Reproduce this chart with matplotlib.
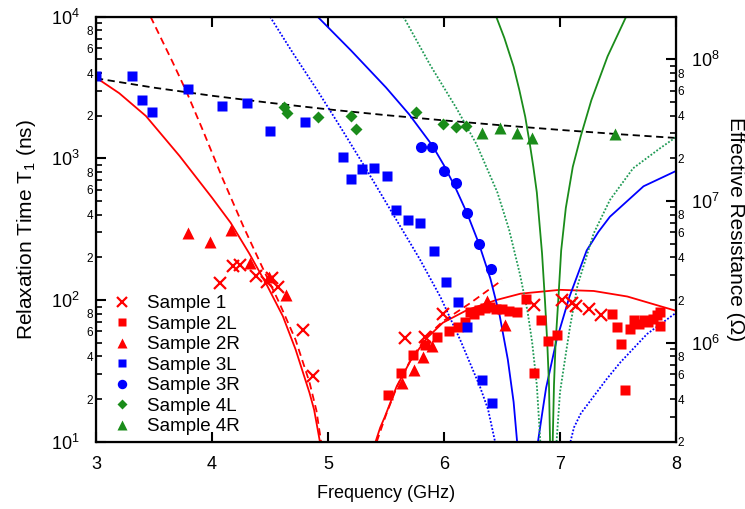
import math
import matplotlib
matplotlib.use('Agg')
import matplotlib.pyplot as plt
from matplotlib.ticker import LogLocator, FuncFormatter

plt.rcParams['font.family'] = ['Liberation Sans', 'DejaVu Sans']
plt.rcParams['mathtext.fontset'] = 'custom'
plt.rcParams['mathtext.rm'] = 'Liberation Sans'

# measured points
s1_x = [4.07, 4.18, 4.24, 4.38, 4.47, 4.52, 4.57, 4.78, 4.87, 5.66, 5.84, 5.99, 6.78, 7.02, 7.10, 7.14, 7.25, 7.35]
s1_y = [131, 174, 178, 148, 135, 142, 124, 61, 29, 54, 55, 80, 92, 100, 95, 91, 86, 78]

s2L_x = [5.52, 5.63, 5.73, 5.84, 5.94, 6.04, 6.12, 6.18, 6.22, 6.26, 6.30, 6.35, 6.40, 6.45, 6.50,
         6.56, 6.63, 6.71, 6.78, 6.84, 6.90, 6.97, 7.45, 7.49, 7.53, 7.56, 7.60, 7.64, 7.68, 7.72,
         7.76, 7.80, 7.84, 7.86, 7.86]
s2L_y = [21.4, 30.4, 40.9, 48.2, 55, 60, 64, 70, 83, 80, 85, 88, 90, 86, 87,
         84, 83, 101, 30.7, 72, 51, 57, 80, 64, 49, 23.2, 62, 72, 68, 72,
         70, 74, 78, 82, 66]

s2R_x = [3.79, 3.98, 4.16, 4.33, 4.49, 4.64, 5.64, 5.74, 5.82, 5.90, 6.37, 6.53]
s2R_y = [296, 255, 312, 184, 145, 108, 25.8, 32, 39.4, 47.5, 98, 67]

s3L_x = [3.0, 3.31, 3.40, 3.48, 3.79, 4.09, 4.30, 4.50, 4.80, 5.13, 5.20, 5.29, 5.40, 5.51,
         5.59, 5.69, 5.79, 5.91, 6.02, 6.12, 6.20, 6.33, 6.41]
s3L_y = [3810, 3810, 2580, 2135, 3090, 2340, 2450, 1560, 1806, 1017, 711, 837, 851, 755,
         432, 367, 351, 222, 133, 97, 65, 27.3, 18.7]

s3R_x = [5.80, 5.90, 6.00, 6.10, 6.20, 6.30, 6.405]
s3R_y = [1208, 1208, 815, 667, 409, 247, 166]

s4L_x = [4.62, 4.65, 4.91, 5.20, 5.24, 5.76, 5.99, 6.10, 6.19]
s4L_y = [2316, 2080, 1970, 1990, 1612, 2115, 1740, 1676, 1690]

s4R_x = [6.33, 6.48, 6.63, 6.76, 7.47]
s4R_y = [1518, 1630, 1518, 1385, 1479]

# model curves (x in GHz, y as log10 of T1 in ns)
black_x = [3.0, 3.5, 4.0, 4.5, 5.0, 5.5, 6.0, 6.5, 7.0, 7.5, 8.0]
black_lg = [3.565, 3.499, 3.442, 3.392, 3.346, 3.305, 3.268, 3.233, 3.201, 3.171, 3.144]

red_l_x = [3.0, 3.2, 3.43, 3.72, 4.0, 4.16, 4.32, 4.47, 4.61, 4.72, 4.84, 4.88, 4.93]
red_l_lg = [3.570, 3.46, 3.299, 3.017, 2.722, 2.546, 2.33, 2.11, 1.887, 1.652, 1.346, 1.226, 1.0]
redd_l_x = [3.47, 3.66, 3.78, 3.92, 4.09, 4.27, 4.44, 4.58, 4.72, 4.84, 4.90, 4.94]
redd_l_lg = [4.0, 3.68, 3.47, 3.20, 2.86, 2.52, 2.22, 1.98, 1.72, 1.42, 1.22, 1.0]
red_r_x = [5.41, 5.45, 5.49, 5.59, 5.71, 5.85, 5.99, 6.2, 6.45, 6.66, 7.0, 7.29, 7.58, 8.0]
red_r_lg = [1.0, 1.1, 1.176, 1.387, 1.57, 1.73, 1.84, 1.93, 2.0, 2.045, 2.072, 2.064, 2.025, 1.924]
redd_r_x = [5.42, 5.50, 5.60, 5.72, 5.86, 5.99, 6.22, 6.50]
redd_r_lg = [1.0, 1.19, 1.40, 1.59, 1.75, 1.85, 1.975, 2.14]

bluedot_l_x = [4.50, 4.70, 4.90, 5.10, 5.33, 5.55, 5.79, 5.97, 6.14, 6.31, 6.38, 6.44]
bluedot_l_lg = [4.0, 3.74, 3.49, 3.23, 2.923, 2.62, 2.29, 2.02, 1.718, 1.388, 1.227, 1.0]
blue_l_x = [4.91, 5.2, 5.5, 5.7, 5.9, 6.0, 6.1, 6.2, 6.3, 6.4, 6.48, 6.55, 6.6, 6.63]
blue_l_lg = [4.0, 3.76, 3.50, 3.31, 3.09, 2.95, 2.79, 2.61, 2.40, 2.15, 1.89, 1.58, 1.28, 1.0]
blue_r_x = [6.81, 6.85, 6.88, 6.97, 7.08, 7.23, 7.33, 7.43, 7.72, 8.0]
blue_r_lg = [1.0, 1.22, 1.38, 1.716, 2.02, 2.35, 2.48, 2.588, 2.803, 2.911]
bluedot_r_x = [7.09, 7.12, 7.18, 7.29, 7.40, 7.52, 7.75, 8.0]
bluedot_r_lg = [1.0, 1.1, 1.2, 1.32, 1.44, 1.56, 1.76, 1.91]

greendot_l_x = [5.65, 5.88, 6.11, 6.28, 6.46, 6.56, 6.655, 6.72, 6.76, 6.80, 6.83]
greendot_l_lg = [4.0, 3.66, 3.35, 3.10, 2.76, 2.50, 2.18, 1.92, 1.70, 1.40, 1.0]
green_l_x = [6.45, 6.52, 6.60, 6.65, 6.70, 6.74, 6.77, 6.80, 6.845, 6.87, 6.89, 6.905, 6.914]
green_l_lg = [4.0, 3.85, 3.647, 3.48, 3.294, 3.10, 2.94, 2.76, 2.33, 2.0, 1.70, 1.40, 1.0]
green_r_x = [6.937, 6.948, 6.962, 6.985, 7.01, 7.05, 7.11, 7.18, 7.27, 7.41, 7.57]
green_r_lg = [1.0, 1.4, 1.7, 2.0, 2.35, 2.65, 2.94, 3.16, 3.41, 3.72, 4.0]
greendot_r_x = [6.97, 7.0, 7.05, 7.086, 7.15, 7.29, 7.43, 7.63, 7.86, 8.0]
greendot_r_lg = [1.0, 1.35, 1.62, 1.81, 2.10, 2.47, 2.706, 2.93, 3.07, 3.15]

RED = '#ff0000'
BLUE = '#0000ff'
GREEN = '#1a8c1a'
GREEN2 = '#1f9a55'


def ns(lg):
    return [10 ** v for v in lg]


fig = plt.figure(figsize=(7.45, 5.09), dpi=100)
ax = fig.add_axes([0.1289, 0.1322, 0.7785, 0.835])

lw = 1.3
dash = (0, (4, 2.5))
dot = (0, (1, 1))
ax.plot(black_x, ns(black_lg), color='black', ls=dash, lw=lw)
ax.plot(red_l_x, ns(red_l_lg), color=RED, lw=lw)
ax.plot(redd_l_x, ns(redd_l_lg), color=RED, ls=dash, lw=lw)
ax.plot(red_r_x, ns(red_r_lg), color=RED, lw=lw)
ax.plot(redd_r_x, ns(redd_r_lg), color=RED, ls=dash, lw=lw)
ax.plot(bluedot_l_x, ns(bluedot_l_lg), color=BLUE, ls=dot, lw=lw)
ax.plot(blue_l_x, ns(blue_l_lg), color=BLUE, lw=lw)
ax.plot(blue_r_x, ns(blue_r_lg), color=BLUE, lw=lw)
ax.plot(bluedot_r_x, ns(bluedot_r_lg), color=BLUE, ls=dot, lw=lw)
ax.plot(greendot_l_x, ns(greendot_l_lg), color=GREEN2, ls=dot, lw=lw)
ax.plot(green_l_x, ns(green_l_lg), color=GREEN, lw=lw)
ax.plot(green_r_x, ns(green_r_lg), color=GREEN, lw=lw)
ax.plot(greendot_r_x, ns(greendot_r_lg), color=GREEN2, ls=dot, lw=lw)

ax.plot(s1_x, s1_y, 'x', color=RED, ms=9, mew=1.6, label='Sample 1')
ax.plot(s2L_x, s2L_y, 's', color=RED, ms=7, mec='none', label='Sample 2L')
ax.plot(s2R_x, s2R_y, '^', color=RED, ms=8, mec='none', label='Sample 2R')
ax.plot(s3L_x, s3L_y, 's', color=BLUE, ms=7, mec='none', label='Sample 3L')
ax.plot(s3R_x, s3R_y, 'o', color=BLUE, ms=8, mec='none', label='Sample 3R')
ax.plot(s4L_x, s4L_y, 'D', color=GREEN, ms=6, mec='none', label='Sample 4L')
ax.plot(s4R_x, s4R_y, '^', color=GREEN, ms=8, mec='none', label='Sample 4R')

ax.set_yscale('log')
ax.set_xlim(3, 8)
ax.set_ylim(10, 1e4)
ax.set_xticks([3, 4, 5, 6, 7, 8])


def minor_fmt(v, pos):
    d = round(v / 10 ** math.floor(math.log10(v) + 1e-9))
    if v > 1.5e8:
        return ''
    return str(d) if d in (2, 4, 6, 8) else ''


ax.yaxis.set_minor_locator(LogLocator(base=10, subs=range(2, 10)))
ax.yaxis.set_minor_formatter(FuncFormatter(minor_fmt))
ax.tick_params(axis='both', which='major', direction='in', length=7, width=1.5, labelsize=13)
ax.tick_params(axis='y', which='major', pad=12)
ax.tick_params(axis='y', which='minor', direction='in', length=4, width=1.2, labelsize=8.5, pad=2)
ax.tick_params(axis='x', which='both', top=True)
ax.tick_params(axis='x', which='major', pad=10)
for s in ax.spines.values():
    s.set_linewidth(1.6)

ax.set_xlabel('Frequency (GHz)', fontsize=13, labelpad=9)
ax.set_ylabel('Relaxation Time T$_1$ (ns)', fontsize=15, labelpad=9)

ax2 = ax.twinx()
ax2.set_yscale('log')
ax2.set_ylim(2e5, 2e8)
ax2.yaxis.set_minor_locator(LogLocator(base=10, subs=range(2, 10)))
ax2.yaxis.set_minor_formatter(FuncFormatter(minor_fmt))
ax2.tick_params(axis='y', which='major', direction='in', length=7, width=1.5, labelsize=13, pad=11)
ax2.tick_params(axis='y', which='minor', direction='in', length=4, width=1.2, labelsize=8.5, pad=1)
ax2.set_ylabel('Effective Resistance (\u03a9)', fontsize=15, rotation=270, labelpad=18)

ax.legend(loc='center left', bbox_to_anchor=(0.0, 0.18), frameon=False, fontsize=13.5,
          handlelength=2.0, handletextpad=0.3, labelspacing=0.18, borderaxespad=0.0,
          markerscale=0.85)

fig.savefig('out.png', dpi=100)
